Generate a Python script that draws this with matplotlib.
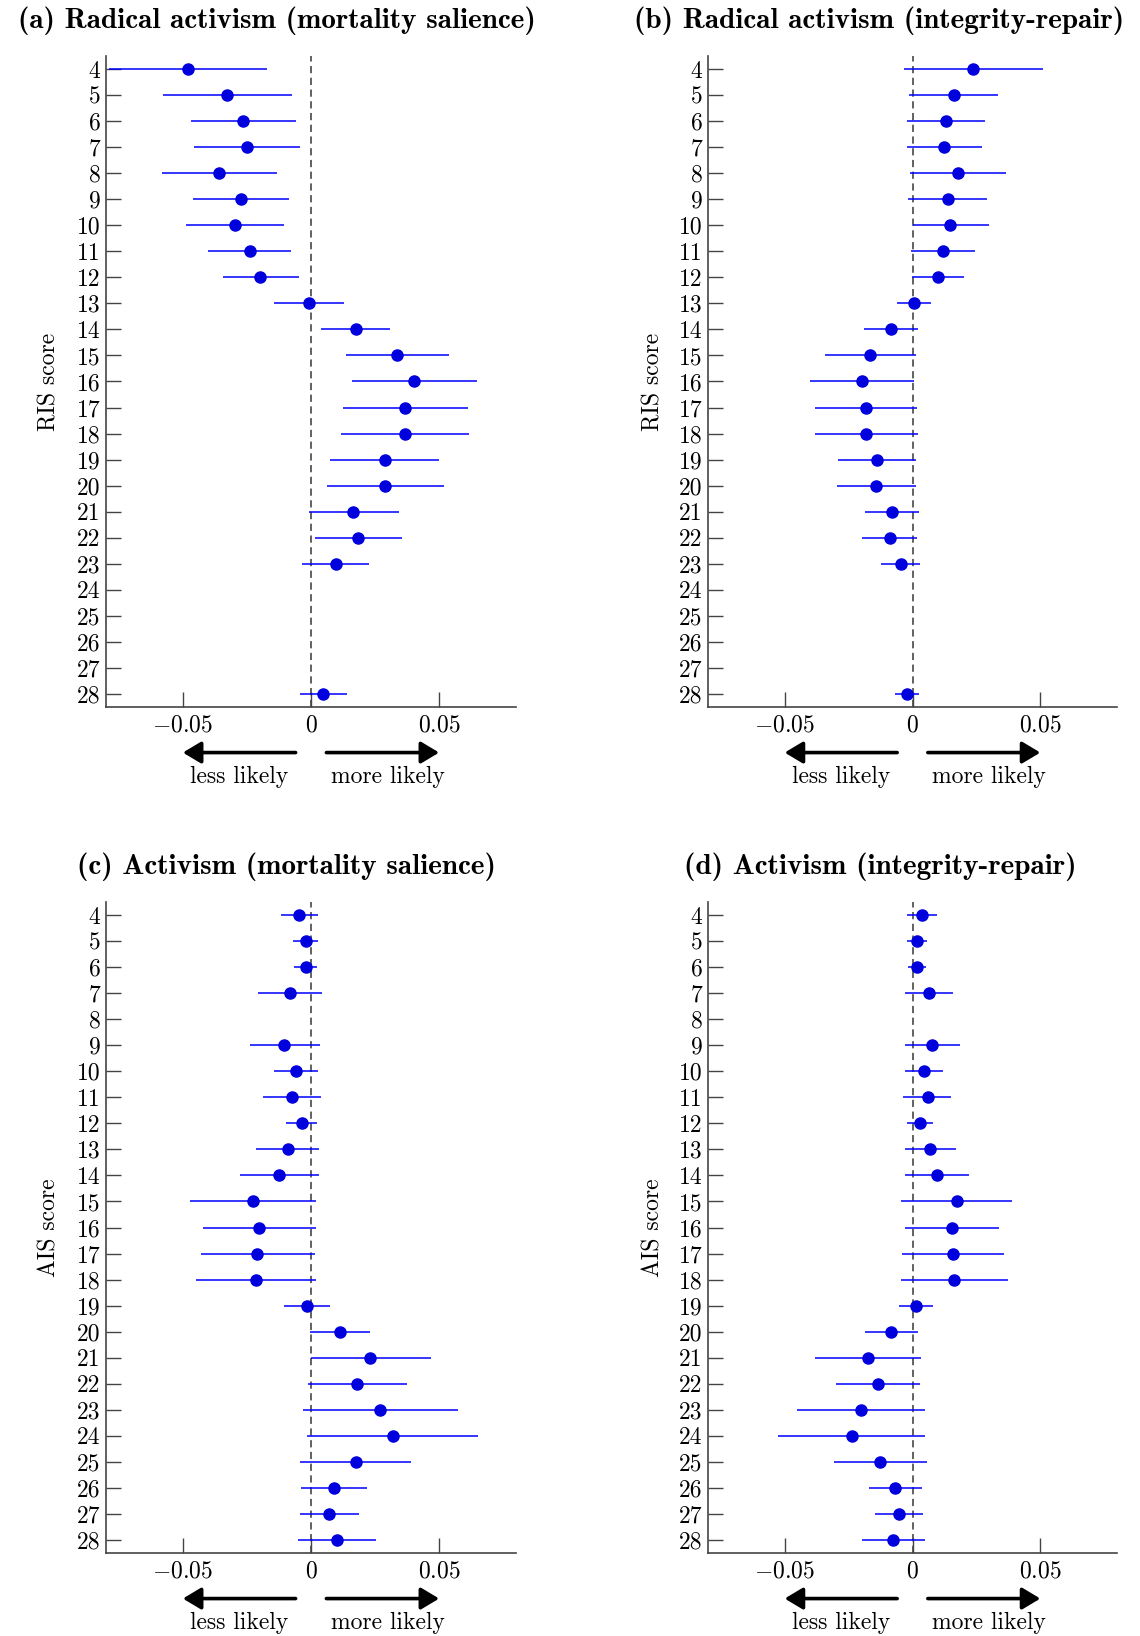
import numpy as np
import matplotlib
matplotlib.use("Agg")
import matplotlib.pyplot as plt
from matplotlib.ticker import FixedLocator, FixedFormatter

plt.rcParams['font.family'] = ['cmr10', 'DejaVu Serif']
plt.rcParams['mathtext.fontset'] = 'cm'
plt.rcParams['axes.unicode_minus'] = False

nan = np.nan
scores = list(range(4, 29))

# (a) radical activism, mortality salience
ris_ms_est = [-0.048, -0.0326, -0.0265, -0.0251, -0.0358, -0.0275, -0.0297, -0.024, -0.0199, -0.0009,
              0.0175, 0.0336, 0.0403, 0.0366, 0.0368, 0.0287, 0.029, 0.0165, 0.0183, 0.0096,
              nan, nan, nan, nan, 0.0048]
ris_ms_lo = [-0.079, -0.0578, -0.047, -0.0456, -0.0582, -0.0462, -0.0488, -0.0403, -0.0345, -0.0145,
             0.004, 0.0135, 0.0161, 0.0123, 0.0118, 0.0075, 0.0061, -0.0009, 0.0014, -0.0034,
             nan, nan, nan, nan, -0.0042]
ris_ms_hi = [-0.017, -0.0073, -0.006, -0.0044, -0.0131, -0.0086, -0.0105, -0.0078, -0.0048, 0.0129,
             0.0308, 0.0539, 0.0647, 0.0612, 0.0618, 0.05, 0.0518, 0.0342, 0.0355, 0.0227,
             nan, nan, nan, nan, 0.0139]

# (b) radical activism, integrity-repair
ris_ir_est = [0.0238, 0.0161, 0.0132, 0.0124, 0.0179, 0.0137, 0.0148, 0.0118, 0.0099, 0.0004,
              -0.0085, -0.0165, -0.0198, -0.0181, -0.0181, -0.014, -0.0141, -0.0081, -0.0089, -0.0046,
              nan, nan, nan, nan, -0.0022]
ris_ir_lo = [-0.0034, -0.0013, -0.0022, -0.0022, -0.0009, -0.0017, 0.0, -0.0004, -0.0003, -0.0062,
             -0.019, -0.0343, -0.04, -0.038, -0.0382, -0.0293, -0.0296, -0.0185, -0.0196, -0.0122,
             nan, nan, nan, nan, -0.007]
ris_ir_hi = [0.0512, 0.0336, 0.0285, 0.0272, 0.0367, 0.029, 0.0298, 0.0245, 0.0202, 0.0073,
             0.0023, 0.0012, 0.0007, 0.0017, 0.002, 0.0012, 0.0012, 0.0024, 0.0016, 0.0031,
             nan, nan, nan, nan, 0.0027]

# (c) activism, mortality salience
ais_ms_est = [-0.0047, -0.0021, -0.0021, -0.0082, nan, -0.0104, -0.006, -0.0075, -0.0036, -0.0091,
              -0.0125, -0.0226, -0.0203, -0.0209, -0.0214, -0.0016, 0.0112, 0.0232, 0.018, 0.027,
              0.0319, 0.0174, 0.009, 0.0071, 0.0103]
ais_ms_lo = [-0.0119, -0.007, -0.0065, -0.0208, nan, -0.0239, -0.0145, -0.0187, -0.0097, -0.0213,
             -0.0279, -0.0473, -0.0423, -0.0431, -0.0449, -0.0104, -0.0004, -0.0001, -0.001, -0.0031,
             -0.0014, -0.0043, -0.0039, -0.0042, -0.0051]
ais_ms_hi = [0.0027, 0.0027, 0.0022, 0.0042, nan, 0.0034, 0.0027, 0.0039, 0.0025, 0.0031,
             0.0032, 0.0019, 0.0018, 0.0014, 0.0019, 0.0073, 0.0229, 0.0469, 0.0374, 0.0573,
             0.0653, 0.039, 0.0219, 0.0186, 0.0255]

# (d) activism, integrity-repair
ais_ir_est = [0.0036, 0.0017, 0.0017, 0.0065, nan, 0.0078, 0.0044, 0.0059, 0.0028, 0.007,
              0.0095, 0.0173, 0.0153, 0.0157, 0.0163, 0.0013, -0.0083, -0.0175, -0.0134, -0.0202,
              -0.0238, -0.0128, -0.0067, -0.0052, -0.0077]
ais_ir_lo = [-0.0023, -0.0023, -0.0019, -0.0028, nan, -0.003, -0.003, -0.0036, -0.0023, -0.0028,
             -0.0031, -0.0044, -0.003, -0.004, -0.0044, -0.0054, -0.0187, -0.0382, -0.0301, -0.0453,
             -0.0526, -0.0309, -0.0172, -0.0147, -0.0199]
ais_ir_hi = [0.0097, 0.0056, 0.0052, 0.0157, nan, 0.0187, 0.0121, 0.0152, 0.0081, 0.0169,
             0.0222, 0.039, 0.0339, 0.0359, 0.0372, 0.0082, 0.0022, 0.0035, 0.0031, 0.005,
             0.0047, 0.0055, 0.0039, 0.0043, 0.005]

W, H = 1140, 1636
fig = plt.figure(figsize=(W / 100, H / 100), dpi=100)

FS = 17
TFS = 21
panels = [
    # est, lo, hi, ylabel, title, axes box in px (left, top, right, bottom), title x, title y, label x
    (ris_ms_est, ris_ms_lo, ris_ms_hi, 'RIS score', '(a) Radical activism (mortality salience)',
     (106, 56, 516, 707), 277, 21, 60),
    (ris_ir_est, ris_ir_lo, ris_ir_hi, 'RIS score', '(b) Radical activism (integrity-repair)',
     (708, 56, 1117, 707), 879, 21, 664),
    (ais_ms_est, ais_ms_lo, ais_ms_hi, 'AIS score', '(c) Activism (mortality salience)',
     (106, 902, 516, 1553), 286, 867, 60),
    (ais_ir_est, ais_ir_lo, ais_ir_hi, 'AIS score', '(d) Activism (integrity-repair)',
     (708, 902, 1117, 1553), 880, 867, 664),
]

for est, lo, hi, ylab, title, box, tx, ty, lx in panels:
    l, t, r, b = box
    ax = fig.add_axes([l / W, 1 - b / H, (r - l) / W, (b - t) / H])
    est = np.array(est)
    lo = np.array(lo)
    hi = np.array(hi)

    ax.axvline(0, color='#555555', ls=(0, (4, 2.5)), lw=1.3, zorder=1)
    ax.hlines(scores, lo, hi, color='blue', lw=1.1, zorder=2)
    ax.plot(est, scores, 'o', color='#0000dd', markersize=8, zorder=3)

    ax.set_xlim(-0.08, 0.08)
    ax.set_ylim(28.5, 3.5)
    ax.yaxis.set_major_locator(FixedLocator(scores))
    ax.set_yticklabels([str(s) for s in scores])
    ax.xaxis.set_major_locator(FixedLocator([-0.05, 0, 0.05]))
    ax.xaxis.set_major_formatter(FixedFormatter([r'$-0.05$', r'$0$', r'$0.05$']))
    ax.tick_params(direction='in', length=11, width=1.0, color='#444444',
                   labelsize=FS, pad=4)
    ax.tick_params(axis='x', pad=5)

    for s in ['top', 'right']:
        ax.spines[s].set_visible(False)
    for s in ['left', 'bottom']:
        ax.spines[s].set_color('#444444')
        ax.spines[s].set_linewidth(1.2)

    ax.set_ylabel(ylab, fontsize=FS)
    ax.yaxis.set_label_coords((lx - l) / (r - l), 0.5)

    # direction arrows under the x axis
    for x0, x1 in [(-0.006, -0.05), (0.006, 0.05)]:
        ax.annotate('', xy=(x1, -0.07), xytext=(x0, -0.07),
                    xycoords=('data', 'axes fraction'), textcoords=('data', 'axes fraction'),
                    arrowprops=dict(arrowstyle='-|>,head_length=0.55,head_width=0.33',
                                    lw=2.6, color='black', mutation_scale=20,
                                    shrinkA=0, shrinkB=0),
                    annotation_clip=False)
    ax.text(-0.028, -0.107, 'less likely', transform=ax.get_xaxis_transform(),
            ha='center', va='center', fontsize=FS)
    ax.text(0.030, -0.107, 'more likely', transform=ax.get_xaxis_transform(),
            ha='center', va='center', fontsize=FS)

    fig.text(tx / W, 1 - ty / H, title, ha='center', va='center',
             fontsize=TFS, family=['cmb10', 'DejaVu Serif'])

fig.savefig('out.png', dpi=100)
